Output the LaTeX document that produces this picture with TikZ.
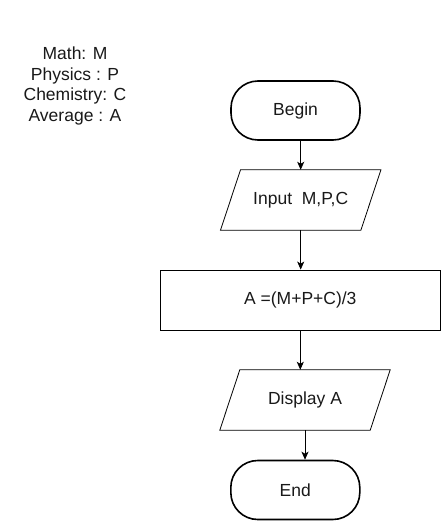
\documentclass[tikz,border=0pt]{standalone}
\usepackage{fontspec}
\setmainfont{Liberation Sans}
\usetikzlibrary{arrows.meta}
\begin{document}
\begin{tikzpicture}[x=1pt,y=-1pt,
  every node/.style={font=\fontsize{17.5}{20.7}\selectfont, text=black!90},
  term/.style={draw, line width=1.6pt, rounded corners=27pt, minimum width=129pt, minimum height=59pt, inner sep=0pt},
  procbox/.style={draw, line width=0.8pt, minimum height=60pt, inner sep=0pt},
  iobox/.style={draw=none, minimum height=60pt, inner sep=0pt},
  arr/.style={-{Stealth[length=8pt,width=7pt,inset=2pt]}, line width=0.8pt}
]
\useasboundingbox (0,0) rectangle (441,522);
\node[align=center] (legend) at (75,86) {Math: M\\Physics : P\\Chemistry: C\\Average : A};
\node[term] (begin) at (295.5,110.5) {Begin};
\node[iobox, minimum width=160pt] (input) at (300.7,200) {Input\ \ M,P,C};
\draw[line width=0.8pt] ([xshift=20pt]input.north west) -- (input.north east) -- ([xshift=-20pt]input.south east) -- (input.south west) -- cycle;
\node[procbox, minimum width=280pt] (calc) at (300.3,300) {A =(M+P+C)/3};
\node[iobox, minimum width=170pt] (disp) at (305,400) {Display A};
\draw[line width=0.8pt] ([xshift=20pt]disp.north west) -- (disp.north east) -- ([xshift=-20pt]disp.south east) -- (disp.south west) -- cycle;
\node[term] (end) at (295.3,490) {End};
\draw[arr] (begin.south -| input.north) -- (input.north);
\draw[arr] (input.south) -- (calc.north -| input.south);
\draw[arr] (calc.south) -- (calc.south |- disp.north);
\draw[arr] (disp.south) -- (disp.south |- end.north);
\end{tikzpicture}
\end{document}
